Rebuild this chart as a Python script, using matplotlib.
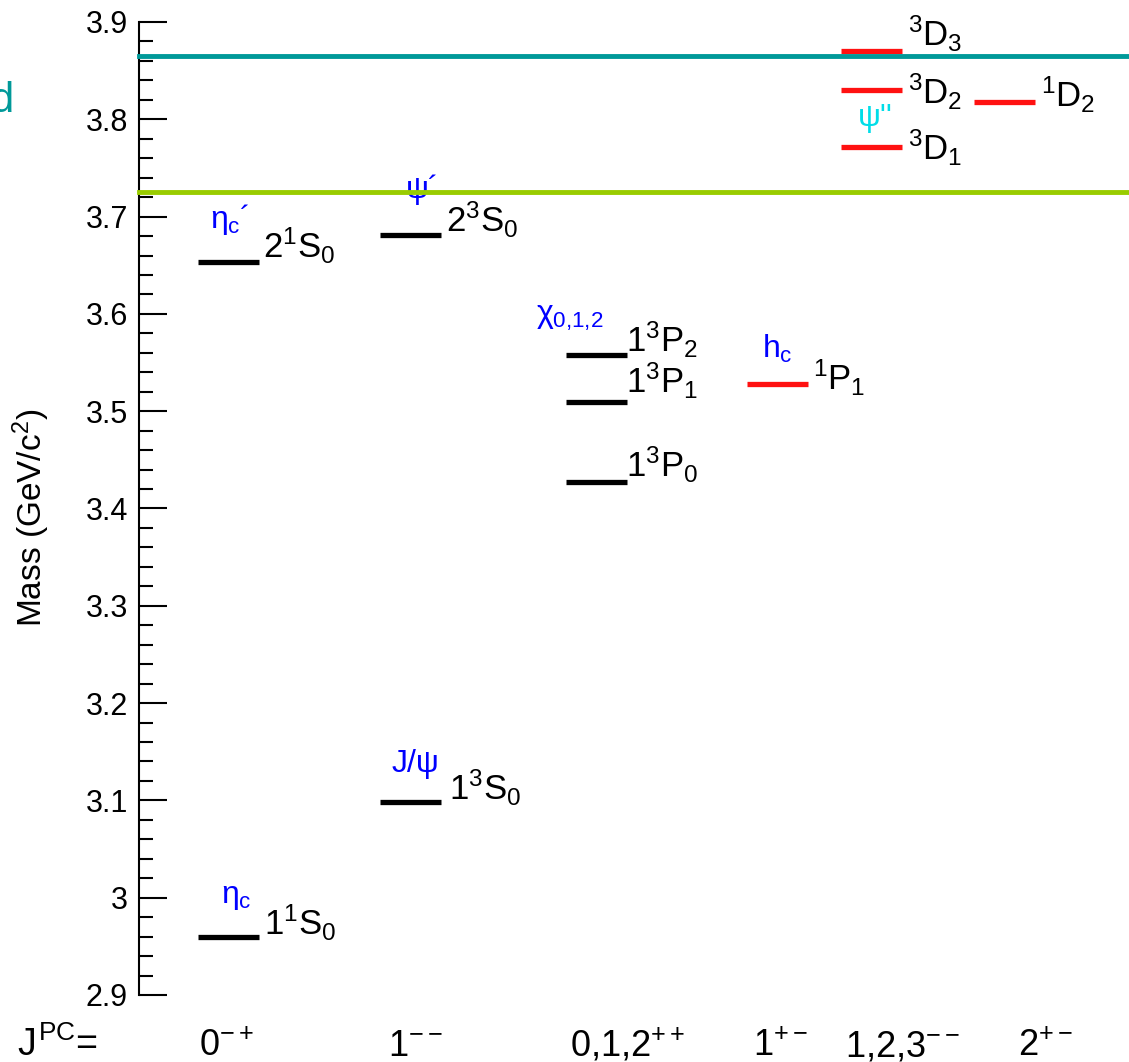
import matplotlib
matplotlib.use("Agg")
import matplotlib.pyplot as plt
from matplotlib.ticker import MultipleLocator, FuncFormatter
from matplotlib.transforms import blended_transform_factory

plt.rcParams['font.family'] = ['Liberation Sans', 'DejaVu Sans']
plt.rcParams['mathtext.fontset'] = 'custom'
plt.rcParams['mathtext.rm'] = 'Liberation Sans'
plt.rcParams['mathtext.it'] = 'Liberation Sans'
plt.rcParams['mathtext.bf'] = 'Liberation Sans:bold'
plt.rcParams['mathtext.sf'] = 'Liberation Sans'

# --- charmonium spectrum ---
jpc_labels = [r"$0^{-+}$", r"$1^{--}$", r"$0{,}1{,}2^{++}$", r"$1^{+-}$", r"$1{,}2{,}3^{--}$", r"$2^{+-}$"]

level_names = [r"$1^1S_0$", r"$2^1S_0$", r"$1^3S_0$", r"$2^3S_0$",
               r"$1^3P_0$", r"$1^3P_1$", r"$1^3P_2$", r"$^1P_1$",
               r"$^3D_1$", r"$^3D_2$", r"$^3D_3$", r"$^1D_2$"]
level_mass = [2.960, 3.653, 3.098, 3.681,
              3.427, 3.509, 3.558, 3.528,
              3.772, 3.830, 3.870, 3.818]
level_column = [0, 0, 1, 1, 2, 2, 2, 3, 4, 4, 4, 5]
level_kind = ["seen", "seen", "seen", "seen",
              "seen", "seen", "seen", "new",
              "new", "new", "new", "new"]

particle_names = [r"$\eta_c$", r"$\eta_c$´", "J/ψ", "ψ´", r"$\chi_{0{,}1{,}2}$", r"$h_c$", "ψ''"]
particle_level = [0, 1, 2, 3, 6, 7, 8]

# open-charm thresholds (GeV/c^2)
threshold_mass = [3.725, 3.865]

# --- layout / style ---
col_center = [89, 271, 457, 638, 732.5, 865]      # x in axis units
bar_half = 30.5
kind_color = {"seen": "black", "new": "#ff1111"}
threshold_color = ["#99cc00", "#009999"]
particle_color = ["blue", "blue", "blue", "blue", "blue", "blue", "#00dde8"]

# offsets (points) of state labels from the right end of each bar
level_offset = [(4, 1), (3, 3), (6, 1.5), (4, 2),
                (0, 4), (0, 6.5), (0, 2), (4, -4.5),
                (4, -10), (4, -10), (4, 4), (5, -3.5)]
# offsets (points) of particle labels from the left end of their bar
particle_offset = [(17, 24), (9, 24.5), (9, 21.5), (19, 27), (-21, 23), (11.5, 19), (12, 15)]

fig = plt.figure(figsize=(11.29, 10.62), dpi=100)
ax = fig.add_axes([139 / 1129, 67 / 1062, 990 / 1129, 973 / 1062])
ax.set_xlim(0, 990)
ax.set_ylim(2.9, 3.9)

for side in ["top", "right", "bottom"]:
    ax.spines[side].set_visible(False)
ax.spines["left"].set_linewidth(1.5)
ax.set_xticks([])
ax.yaxis.set_major_locator(MultipleLocator(0.1))
ax.yaxis.set_minor_locator(MultipleLocator(0.02))
ax.yaxis.set_major_formatter(FuncFormatter(lambda v, _: f"{round(v, 2):g}"))
ax.tick_params(axis="y", which="major", direction="in", length=20, width=1.5,
               labelsize=22, pad=8)
ax.tick_params(axis="y", which="minor", direction="in", length=10, width=1.5)
ax.set_ylabel("Mass (GeV/c$^2$)", fontsize=24)
ax.yaxis.set_label_coords(-0.088, 0.49)

# thresholds
for m, c in zip(threshold_mass, threshold_color):
    ax.axhline(m, color=c, lw=3.5, zorder=4, clip_on=False)

# levels
for i, m in enumerate(level_mass):
    xc = col_center[level_column[i]]
    ax.hlines(m, xc - bar_half, xc + bar_half, color=kind_color[level_kind[i]], lw=3.8, zorder=3)
    ax.annotate(level_names[i], (xc + bar_half, m), xytext=level_offset[i],
                textcoords="offset points", ha="left", va="baseline", fontsize=25)

for name, lev, off, c in zip(particle_names, particle_level, particle_offset, particle_color):
    xc = col_center[level_column[lev]]
    ax.annotate(name, (xc - bar_half, level_mass[lev]), xytext=off,
                textcoords="offset points", ha="left", va="baseline", fontsize=23, color=c, zorder=2)

# J^PC row under the axis
trans = blended_transform_factory(ax.transData, ax.transAxes)
ax.text(-122, -0.0627, r"$J^{PC}$=", transform=trans, ha="left", va="baseline", fontsize=27)
jpc_left = [60, 249, 431, 614, 706, 879]
for x, lab in zip(jpc_left, jpc_labels):
    ax.text(x, -0.0627, lab, transform=trans, ha="left", va="baseline", fontsize=26)

fig.text(13 / 1129, 1 - 112 / 1062, "d", color="#009999", fontsize=30, ha="right", va="baseline")

fig.savefig("out.png", dpi=100)
